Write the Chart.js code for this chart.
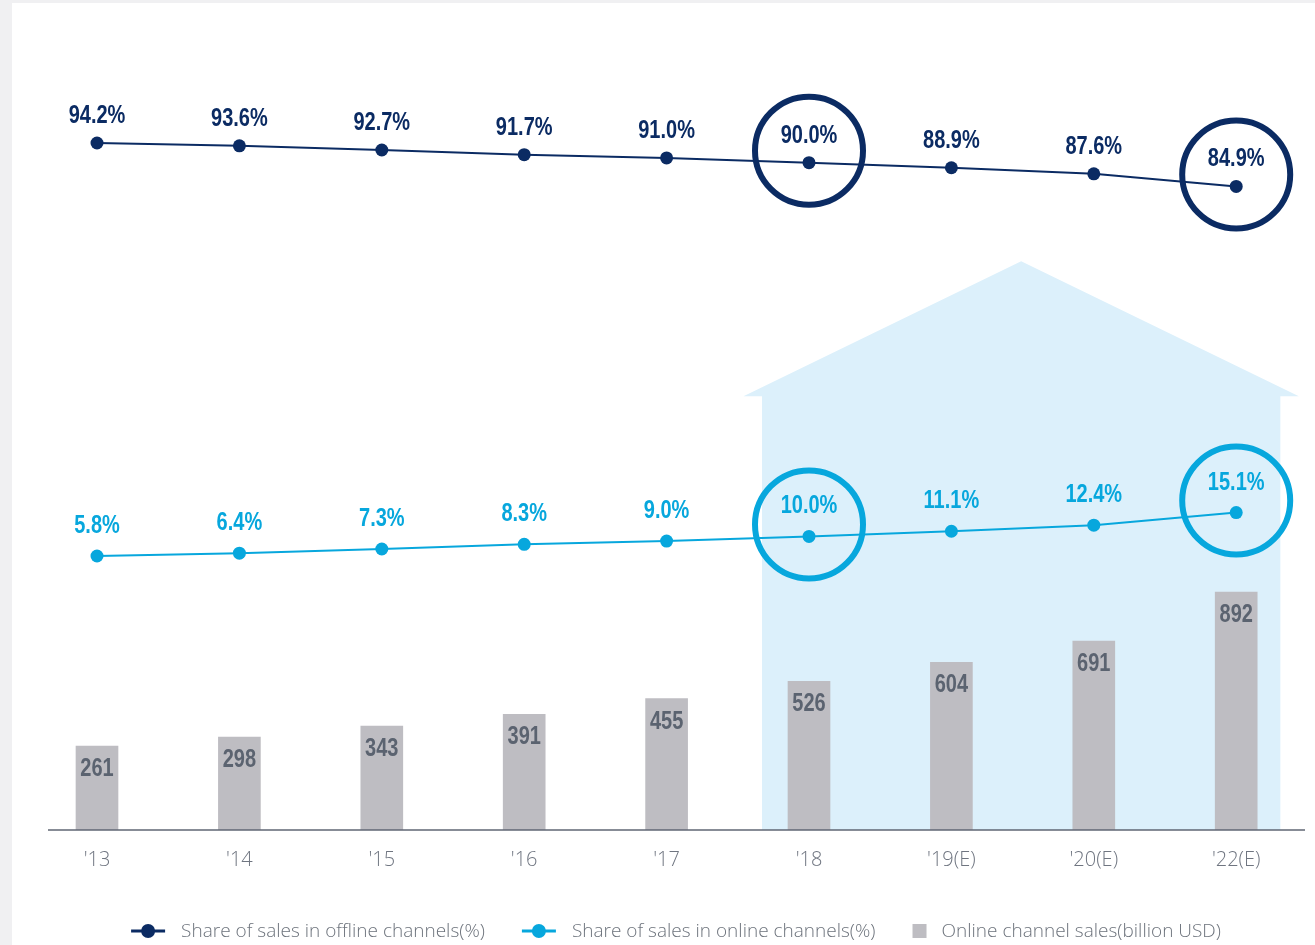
<!DOCTYPE html>
<html>
<head>
<meta charset="utf-8">
<script src="https://cdn.jsdelivr.net/npm/chart.js@4.4.1/dist/chart.umd.min.js"></script>
<style>
  html, body { margin: 0; padding: 0; background: #ffffff; }
  #wrap { position: relative; width: 1315px; height: 945px; }
</style>
</head>
<body>
<div id="wrap"><canvas id="c" width="1315" height="945"></canvas></div>
<script>
const categories = ["'13", "'14", "'15", "'16", "'17", "'18", "'19(E)", "'20(E)", "'22(E)"];
const offlineShare = [94.2, 93.6, 92.7, 91.7, 91.0, 90.0, 88.9, 87.6, 84.9];
const onlineShare = [5.8, 6.4, 7.3, 8.3, 9.0, 10.0, 11.1, 12.4, 15.1];
const onlineSales = [261, 298, 343, 391, 455, 526, 604, 691, 892];
const highlighted = [5, 8];
const forecastFrom = 5;
const seriesNames = ["Share of sales in offline channels(%)", "Share of sales in online channels(%)", "Online channel sales(billion USD)"];

const NAVY = '#0b2b63';
const CYAN = '#07a7dd';
const BARC = '#bebdc2';
const BARTXT = '#5b6370';
const AXTXT = '#6f7580';
const HOUSE = '#dcf0fb';

const pctMin = -52.85, pctMax = 116.25;
const amtMin = -83.2, amtMax = 3154.5;

const LABEL_FONT = 'bold 25px "Liberation Sans", Arial, sans-serif';
const SQUEEZE = 0.8;
const LIGHT_FONT = '300 19px "Open Sans", "Lato", sans-serif';

function condensedText(ctx, text, x, y) {
  ctx.save();
  ctx.translate(x, y);
  ctx.scale(SQUEEZE, 1);
  ctx.fillText(text, 0, 0);
  ctx.restore();
}

const deco = {
  id: 'deco',
  beforeDraw(chart) {
    const ctx = chart.ctx;
    ctx.save();
    ctx.fillStyle = '#f0f0f2';
    ctx.fillRect(0, 0, chart.width, chart.height);
    ctx.fillStyle = '#ffffff';
    ctx.fillRect(12, 3, chart.width - 12, chart.height - 3);
    ctx.restore();
  },
  beforeDatasetsDraw(chart) {
    const ctx = chart.ctx, x = chart.scales.x, p = chart.scales.pct, a = chart.chartArea;
    const w = x.getPixelForValue(1) - x.getPixelForValue(0);
    const left = x.getPixelForValue(forecastFrom) - 0.33 * w;
    const right = x.getPixelForValue(categories.length - 1) + 0.31 * w;
    const eave = 0.13 * w;
    const roofY = p.getPixelForValue(40);
    const peakY = p.getPixelForValue(68.9);
    ctx.save();
    ctx.fillStyle = HOUSE;
    ctx.beginPath();
    ctx.moveTo(left, a.bottom);
    ctx.lineTo(left, roofY);
    ctx.lineTo(left - eave, roofY);
    ctx.lineTo((left + right) / 2, peakY);
    ctx.lineTo(right + eave, roofY);
    ctx.lineTo(right, roofY);
    ctx.lineTo(right, a.bottom);
    ctx.closePath();
    ctx.fill();
    ctx.restore();
  },
  afterDatasetsDraw(chart) {
    const ctx = chart.ctx, a = chart.chartArea;
    ctx.save();
    ctx.strokeStyle = '#5f6673';
    ctx.lineWidth = 1.5;
    ctx.beginPath();
    ctx.moveTo(48, a.bottom);
    ctx.lineTo(1305, a.bottom);
    ctx.stroke();

    const m0 = chart.getDatasetMeta(0), m1 = chart.getDatasetMeta(1), m2 = chart.getDatasetMeta(2);
    ctx.lineWidth = 6;
    highlighted.forEach(i => {
      ctx.strokeStyle = NAVY;
      ctx.beginPath();
      ctx.arc(m0.data[i].x, m0.data[i].y - 12, 54, 0, Math.PI * 2);
      ctx.stroke();
      ctx.strokeStyle = CYAN;
      ctx.beginPath();
      ctx.arc(m1.data[i].x, m1.data[i].y - 12, 54, 0, Math.PI * 2);
      ctx.stroke();
    });

    ctx.font = LABEL_FONT;
    ctx.textAlign = 'center';
    ctx.textBaseline = 'alphabetic';
    ctx.fillStyle = NAVY;
    m0.data.forEach((pt, i) => condensedText(ctx, offlineShare[i].toFixed(1) + '%', pt.x, pt.y - 20));
    ctx.fillStyle = CYAN;
    m1.data.forEach((pt, i) => condensedText(ctx, onlineShare[i].toFixed(1) + '%', pt.x, pt.y - 23));
    ctx.fillStyle = BARTXT;
    m2.data.forEach((bar, i) => condensedText(ctx, String(onlineSales[i]), bar.x, bar.y + 30));
    ctx.restore();
  },
  afterDraw(chart) {
    const ctx = chart.ctx;
    const y = 931;
    ctx.save();
    ctx.font = LIGHT_FONT;
    ctx.textBaseline = 'middle';
    ctx.textAlign = 'left';
    const markerW = [34, 34, 14];
    const gapText = [16, 16, 15];
    const gapItem = 37;
    let total = 0;
    const tw = seriesNames.map(s => ctx.measureText(s).width);
    for (let i = 0; i < 3; i++) total += markerW[i] + gapText[i] + tw[i] + (i < 2 ? gapItem : 0);
    let x = 676 - total / 2;
    const cols = [NAVY, CYAN, BARC];
    for (let i = 0; i < 3; i++) {
      if (i < 2) {
        ctx.strokeStyle = cols[i];
        ctx.lineWidth = 3;
        ctx.beginPath();
        ctx.moveTo(x, y); ctx.lineTo(x + markerW[i], y);
        ctx.stroke();
        ctx.fillStyle = cols[i];
        ctx.beginPath();
        ctx.arc(x + markerW[i] / 2, y, 7, 0, Math.PI * 2);
        ctx.fill();
      } else {
        ctx.fillStyle = cols[i];
        ctx.fillRect(x, y - 7, 14, 14);
      }
      x += markerW[i] + gapText[i];
      ctx.fillStyle = '#6d737c';
      ctx.fillText(seriesNames[i], x, y + 1);
      x += tw[i] + gapItem;
    }
    ctx.restore();
  }
};

new Chart(document.getElementById('c'), {
  type: 'bar',
  data: {
    labels: categories,
    datasets: [
      { type: 'line', label: seriesNames[0], data: offlineShare, yAxisID: 'pct', borderColor: NAVY, backgroundColor: NAVY,
        borderWidth: 2, pointRadius: 6.5, pointHoverRadius: 6.5, pointBackgroundColor: NAVY, pointBorderWidth: 0, tension: 0, order: 1 },
      { type: 'line', label: seriesNames[1], data: onlineShare, yAxisID: 'pct', borderColor: CYAN, backgroundColor: CYAN,
        borderWidth: 2, pointRadius: 6.5, pointHoverRadius: 6.5, pointBackgroundColor: CYAN, pointBorderWidth: 0, tension: 0, order: 2 },
      { type: 'bar', label: seriesNames[2], data: onlineSales, yAxisID: 'amt', backgroundColor: BARC,
        barThickness: 42, base: amtMin, borderWidth: 0, order: 3 }
    ]
  },
  options: {
    responsive: false,
    animation: false,
    events: [],
    layout: { padding: { left: 25.8, right: 7.6, top: 40, bottom: 55 } },
    plugins: { legend: { display: false }, tooltip: { enabled: false } },
    scales: {
      x: {
        offset: true,
        grid: { display: false, drawTicks: false },
        border: { display: false },
        ticks: { color: AXTXT, padding: 18, font: { family: '"Open Sans", "Lato", sans-serif', size: 20, weight: 300 }, maxRotation: 0, autoSkip: false },
        afterFit(s) { s.height = 60; }
      },
      pct: { display: false, position: 'left', min: pctMin, max: pctMax },
      amt: { display: false, position: 'right', min: amtMin, max: amtMax }
    }
  },
  plugins: [deco]
});
</script>
</body>
</html>
